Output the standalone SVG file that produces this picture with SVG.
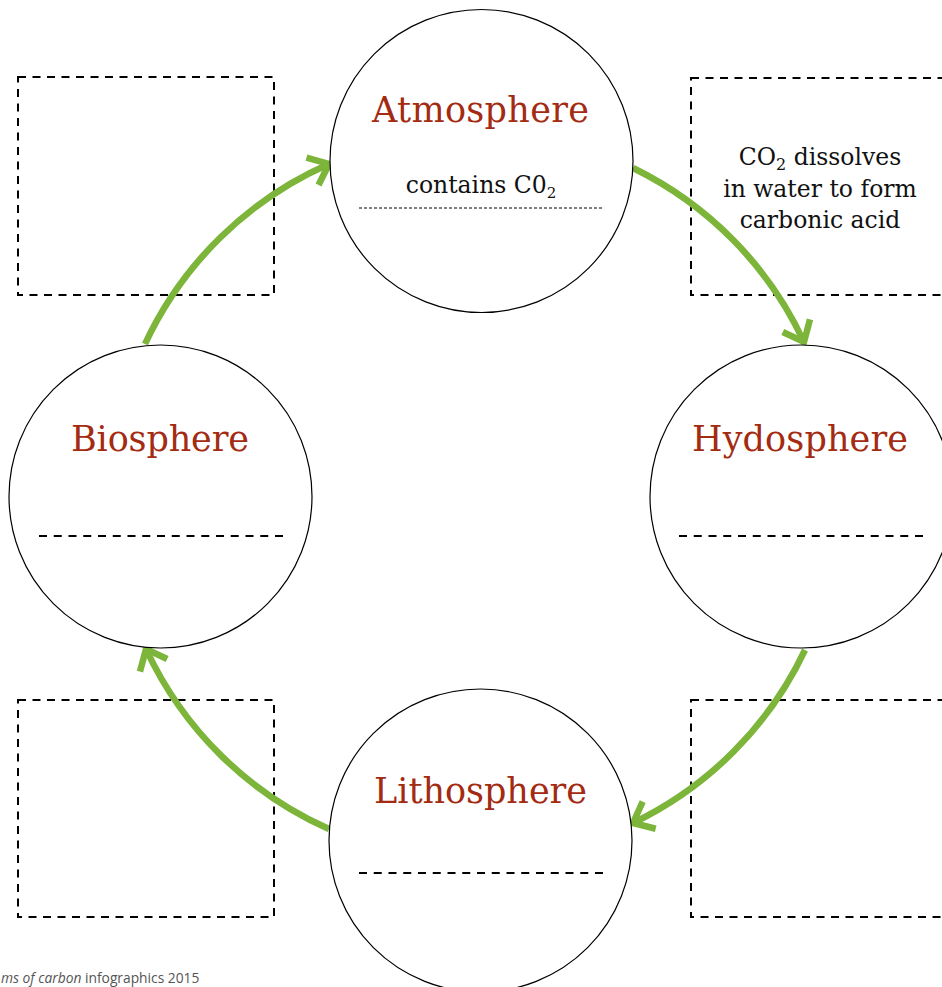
<svg xmlns="http://www.w3.org/2000/svg" width="942" height="987" viewBox="0 0 942 987">
<style>
.box{fill:none;stroke:#000;stroke-width:2;stroke-dasharray:8 6.5}
.circ{fill:#fff;stroke:#000;stroke-width:1.2}
.title{font-family:"DejaVu Serif","Liberation Serif",serif;font-size:35px;fill:#a32b12;text-anchor:middle}
.body{font-family:"DejaVu Serif","Liberation Serif",serif;font-size:23.5px;fill:#111;text-anchor:middle}
.dash{stroke:#000;stroke-width:2;stroke-dasharray:8 6.75}
.dot{stroke:#000;stroke-width:1;stroke-dasharray:3 2}
.arrow{fill:none;stroke:#7cb53a;stroke-width:6.5;marker-end:url(#chev)}
</style>
<defs>
<marker id="chev" markerUnits="userSpaceOnUse" orient="auto" overflow="visible" markerWidth="1" markerHeight="1" refX="0" refY="0">
<path d="M-18,-15 L0,0 L-18,15" fill="none" stroke="#7cb53a" stroke-width="6.5" stroke-linejoin="miter"/>
</marker>
</defs>
<rect width="942" height="987" fill="#fff"/>
<g id="boxes">
<rect class="box" x="18" y="77" width="256" height="218"/>
<rect id="box-tr" class="box" x="691" y="78" width="270" height="217"/>
<rect class="box" x="18" y="700" width="256" height="217"/>
<rect class="box" x="691" y="700" width="270" height="217"/>
</g>
<g id="box-tr-text">
<text class="body" x="820" y="165">CO<tspan font-size="16" dy="5">2</tspan><tspan dy="-5"> dissolves</tspan></text>
<text class="body" x="820" y="197">in water to form</text>
<text class="body" x="820" y="228">carbonic acid</text>
</g>
<g id="connectors">
<path class="arrow" d="M145,344 A365,365 0 0 1 329,164"/>
<path class="arrow" d="M633,168 A365,365 0 0 1 804,342"/>
<path class="arrow" d="M805,650 A365,365 0 0 1 633,823"/>
<path class="arrow" d="M329,829 A365,365 0 0 1 146,649"/>
</g>
<g id="atmosphere">
<circle class="circ" cx="481.5" cy="161" r="151.5"/>
<text class="title" x="480.5" y="122" textLength="217">Atmosphere</text>
<text class="body" x="481" y="193" font-size="22">contains C0<tspan font-size="15" dy="5">2</tspan></text>
<line class="dot" x1="359" y1="208" x2="603" y2="208"/>
</g>
<g id="biosphere">
<circle class="circ" cx="160.5" cy="496.5" r="151.5"/>
<text class="title" x="160" y="451" textLength="178">Biosphere</text>
<line class="dash" x1="39" y1="536" x2="283" y2="536"/>
</g>
<g id="hydosphere">
<circle class="circ" cx="801.5" cy="496.5" r="151.5"/>
<text class="title" x="800" y="451" textLength="216">Hydosphere</text>
<line class="dash" x1="679" y1="536" x2="923" y2="536"/>
</g>
<g id="lithosphere">
<circle class="circ" cx="480.5" cy="840.5" r="151.5"/>
<text class="title" x="480.5" y="803" textLength="213">Lithosphere</text>
<line class="dash" x1="359" y1="873" x2="603" y2="873"/>
</g>
<text x="1" y="983" font-family="Open Sans, sans-serif" font-size="13.8" fill="#555"><tspan font-style="italic">ms of carbon</tspan> infographics 2015</text>
</svg>
